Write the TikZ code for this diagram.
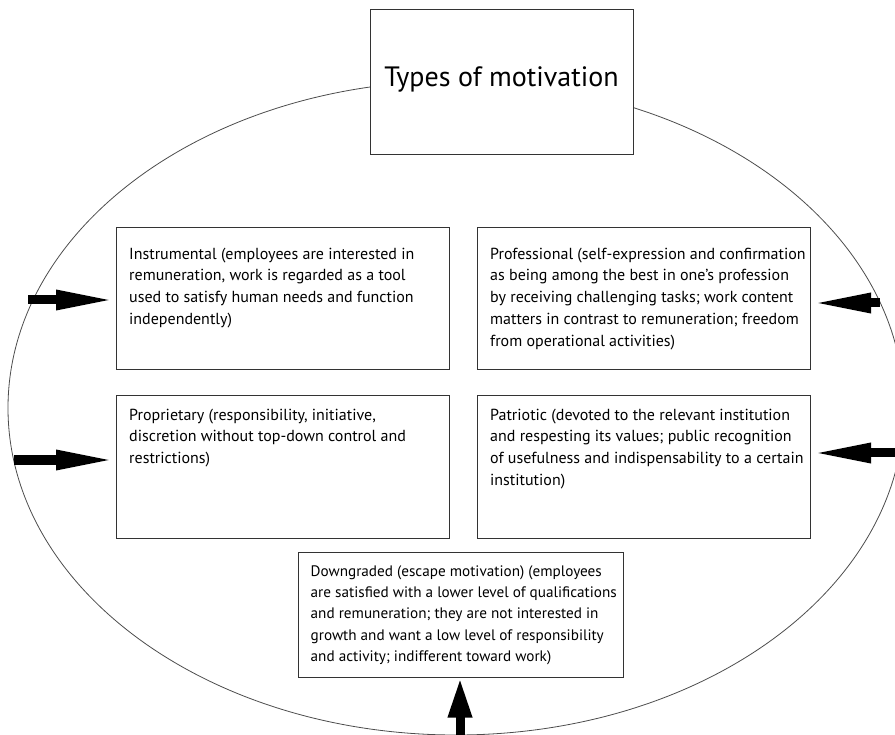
\documentclass[tikz,border=0pt]{standalone}
\usepackage{fontspec}
\setmainfont{PT Sans}
\usetikzlibrary{arrows.meta,positioning}

\begin{document}
\begin{tikzpicture}[
    x=1pt, y=-1pt,
    node distance=25pt and 27pt,
    box/.style={
      draw=black!80,
      fill=white,
      line width=1pt,
      minimum width=333pt,
      minimum height=142pt,
      inner sep=0pt
    },
    txt/.style={
      anchor=north west,
      align=left,
      inner sep=0pt,
      font=\fontsize{16}{21.8}\selectfont
    },
    arrow/.style={-{Triangle[length=60pt, width=18pt]}, line width=9pt}
  ]
  \useasboundingbox (0,0) rectangle (895,735);

  % the big oval, boxes are filled white on top of it
  \draw[black!70, line width=0.8pt] (456,408) ellipse [x radius=448pt, y radius=327pt];

  \node[box, minimum width=263pt, minimum height=145pt] (title) at (501.5,82.5)
    {\raisebox{12pt}{\fontsize{28}{33}\selectfont Types of motivation}};

  \node[box] (instrumental) at (283,299) {};
  \node[box, right=of instrumental] (professional) {};
  \node[box, below=of instrumental] (proprietary) {};
  \node[box, right=of proprietary] (patriotic) {};
  \node[box, minimum width=325pt, minimum height=125pt] (downgraded) at (460.5,614.5) {};

  \node[txt] (instrumental-text) at ([xshift=13pt, yshift=-20pt]instrumental.north west)
    {Instrumental (employees are interested in\\
     remuneration, work is regarded as a tool\\
     used to satisfy human needs and function\\
     independently)};
  \node[txt] (professional-text) at ([xshift=13pt, yshift=-20pt]professional.north west)
    {Professional (self-expression and confirmation\\
     as being among the best in one’s profession\\
     by receiving challenging tasks; work content\\
     matters in contrast to remuneration; freedom\\
     from operational activities)};
  \node[txt] (proprietary-text) at ([xshift=13pt, yshift=-13pt]proprietary.north west)
    {Proprietary (responsibility, initiative,\\
     discretion without top-down control and\\
     restrictions)};
  \node[txt] (patriotic-text) at ([xshift=13pt, yshift=-13pt]patriotic.north west)
    {Patriotic (devoted to the relevant institution\\
     and respesting its values; public recognition\\
     of usefulness and indispensability to a certain\\
     institution)};
  \node[txt, font=\fontsize{15.2}{21.2}\selectfont] (downgraded-text)
    at ([xshift=13pt, yshift=-14pt]downgraded.north west)
    {Downgraded (escape motivation) (employees\\
     are satisfied with a lower level of qualifications\\
     and remuneration; they are not interested in\\
     growth and want a low level of responsibility\\
     and activity; indifferent toward work)};

  % arrows from the oval into the boxes
  \coordinate (rim-w1) at (28,300);
  \coordinate (rim-w2) at (14,460);
  \coordinate (rim-e1) at (880,303);
  \coordinate (rim-e2) at (896,453);
  \coordinate (rim-s) at (460,736);

  \draw[arrow] (rim-w1) -- (rim-w1 -| instrumental.west);
  \draw[arrow] (rim-w2) -- (rim-w2 -| proprietary.west);
  \draw[arrow] (rim-e1) -- (rim-e1 -| professional.east);
  \draw[arrow] (rim-e2) -- (rim-e2 -| patriotic.east);
  \draw[arrow, -{Triangle[length=40pt, width=22pt]}] (rim-s) -- (rim-s |- downgraded.south);
\end{tikzpicture}
\end{document}
